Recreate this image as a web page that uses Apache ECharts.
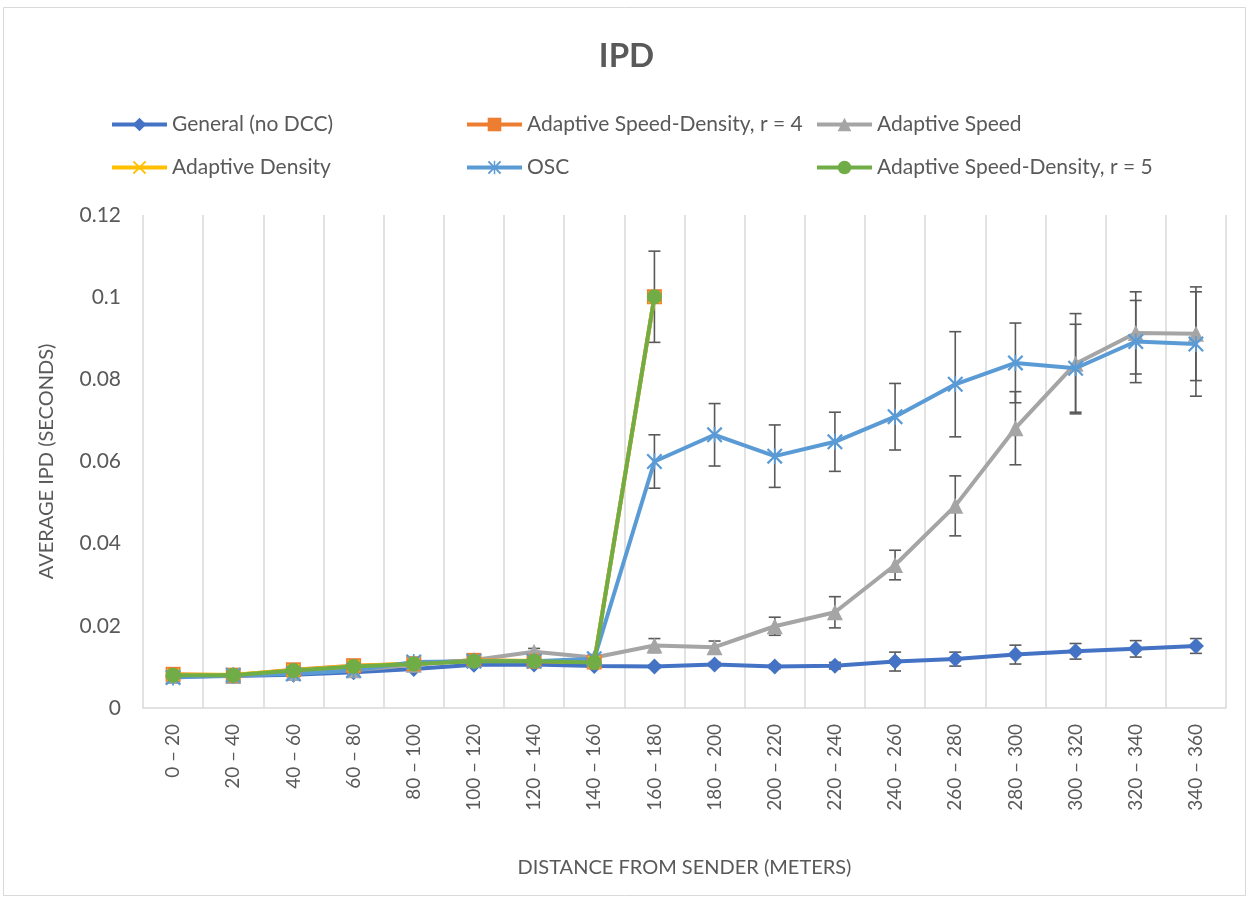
<!DOCTYPE html>
<html>
<head>
<meta charset="utf-8">
<script src="https://cdn.jsdelivr.net/npm/echarts@6/dist/echarts.min.js"></script>
<style>
html,body{margin:0;padding:0;background:#fff;}
#chart{width:1253px;height:903px;}
</style>
</head>
<body>
<div id="chart"></div>
<script>
var categories = ['0 – 20','20 – 40','40 – 60','60 – 80','80 – 100','100 – 120','120 – 140','140 – 160','160 – 180','180 – 200','200 – 220','220 – 240','240 – 260','260 – 280','280 – 300','300 – 320','320 – 340','340 – 360'];
var yTicks = [0, 0.02, 0.04, 0.06, 0.08, 0.1, 0.12];

var seriesNames = ['General (no DCC)','Adaptive Speed-Density, r = 4','Adaptive Speed','Adaptive Density','OSC','Adaptive Speed-Density, r = 5'];

var general = [0.0076,0.0078,0.0081,0.0087,0.0095,0.0105,0.0106,0.0102,0.0101,0.0106,0.0101,0.0103,0.0113,0.0119,0.0130,0.0138,0.0144,0.0151];
var generalErr = [0.0002,0.0002,0.0002,0.0002,0.0003,0.0003,0.0003,0.0003,0.0004,0.0005,0.0005,0.0008,0.0023,0.0017,0.0023,0.0019,0.0020,0.0018];

var speedDensity4 = [0.0082,0.0080,0.0093,0.0103,0.0108,0.0116,0.0114,0.0112,0.1001,null,null,null,null,null,null,null,null,null];

var speed = [0.0078,0.0078,0.0085,0.0092,0.0105,0.0117,0.0137,0.0123,0.0152,0.0148,0.0199,0.0233,0.0348,0.0492,0.0681,0.0838,0.0913,0.0911];
var speedErr = [0.0002,0.0002,0.0002,0.0002,0.0003,0.0004,0.0008,0.0007,0.0017,0.0015,0.0022,0.0038,0.0036,0.0073,0.0089,0.0122,0.0100,0.0114];

var density = [0.0081,0.0081,0.0092,0.0102,0.0108,0.0115,0.0115,0.0112,0.1000,null,null,null,null,null,null,null,null,null];

var osc = [0.0074,0.0080,0.0083,0.0091,0.0112,0.0114,0.0114,0.0120,0.0600,0.0665,0.0613,0.0648,0.0709,0.0788,0.0840,0.0827,0.0892,0.0886];
var oscErr = [0.0002,0.0002,0.0002,0.0002,0.0003,0.0003,0.0003,0.0007,0.0065,0.0076,0.0076,0.0072,0.0081,0.0128,0.0097,0.0107,0.0100,0.0127];

var speedDensity5 = [0.0080,0.0080,0.0091,0.0101,0.0107,0.0114,0.0114,0.0111,0.1001,null,null,null,null,null,null,null,null,null];
var speedDensity5Err = [0.0002,0.0002,0.0002,0.0002,0.0002,0.0003,0.0003,0.0003,0.0111,null,null,null,null,null,null,null,null,null];

var colors = ['#4472C4','#ED7D31','#A5A5A5','#FFC000','#5B9BD5','#70AD47'];
var FONT = 'Lato, "Open Sans", sans-serif';
var TXT = '#595959';

var xSymbol = 'path://M0,1 L1,0 L5,4 L9,0 L10,1 L6,5 L10,9 L9,10 L5,6 L1,10 L0,9 L4,5 Z';
var starSymbol = 'path://M0,1 L1,0 L5,4 L9,0 L10,1 L6,5 L10,9 L9,10 L5,6 L1,10 L0,9 L4,5 Z M4.45,0 L5.55,0 L5.55,10 L4.45,10 Z';

function lineSeries(name, data, color, symbol, size, z) {
  return {
    name: name, type: 'line', data: data, color: color,
    symbol: symbol, symbolSize: size, showSymbol: true,
    lineStyle: {width: 4, color: color},
    itemStyle: {color: color},
    connectNulls: false, z: z, animation: false
  };
}

function errSeries(values, errs, z) {
  var d = [];
  for (var i = 0; i < values.length; i++) {
    if (values[i] != null && errs[i] != null) d.push([i, values[i], errs[i]]);
  }
  return {
    type: 'custom', data: d, z: z, silent: true, animation: false,
    encode: {x: 0, y: 1},
    renderItem: function (params, api) {
      var i = api.value(0), v = api.value(1), e = api.value(2);
      var top = api.coord([i, v + e]);
      var bot = api.coord([i, v - e]);
      var hw = 6;
      var st = {stroke: '#595959', lineWidth: 1.6};
      return {type: 'group', children: [
        {type: 'line', shape: {x1: top[0], y1: top[1], x2: bot[0], y2: bot[1]}, style: st},
        {type: 'line', shape: {x1: top[0]-hw, y1: top[1], x2: top[0]+hw, y2: top[1]}, style: st},
        {type: 'line', shape: {x1: bot[0]-hw, y1: bot[1], x2: bot[0]+hw, y2: bot[1]}, style: st}
      ]};
    }
  };
}

var legendPos = [[110,114],[465,114],[815,114],[110,157],[465,157],[815,157]];
var legends = seriesNames.map(function (n, k) {
  return {
    data: [n], left: legendPos[k][0], top: legendPos[k][1], padding: 0,
    itemWidth: 55, itemHeight: 17, itemGap: 5,
    lineStyle: {width: 4},
    textStyle: {fontFamily: FONT, fontSize: 21, color: TXT}
  };
});

var chart = echarts.init(document.getElementById('chart'), null, {renderer: 'canvas'});
chart.setOption({
  backgroundColor: '#fff',
  animation: false,
  title: {
    text: 'IPD', left: 'center', top: 35,
    textStyle: {fontFamily: FONT, fontSize: 33, fontWeight: 'bold', color: TXT}
  },
  legend: legends,
  graphic: [{
    type: 'rect', shape: {x: 3.5, y: 7.5, width: 1242, height: 888},
    style: {fill: 'none', stroke: '#D9D9D9', lineWidth: 1}, silent: true, z: -10
  }],
  grid: {left: 143, right: 27, top: 215, bottom: 195, containLabel: false},
  xAxis: {
    type: 'category', data: categories, boundaryGap: true,
    name: 'DISTANCE FROM SENDER (METERS)', nameLocation: 'middle', nameGap: 150,
    nameTextStyle: {fontFamily: FONT, fontSize: 20, color: TXT},
    axisLine: {show: true, lineStyle: {color: '#D9D9D9', width: 1.5}},
    axisTick: {show: false},
    splitLine: {show: true, lineStyle: {color: '#D9D9D9', width: 1.5}},
    axisLabel: {rotate: 90, margin: 16, fontFamily: FONT, fontSize: 19, color: TXT, interval: 0}
  },
  yAxis: {
    type: 'value', min: 0, max: 0.12, interval: 0.02,
    name: 'AVERAGE IPD (SECONDS)', nameLocation: 'middle', nameGap: 86,
    nameTextStyle: {fontFamily: FONT, fontSize: 20, color: TXT},
    axisLine: {show: false}, axisTick: {show: false},
    splitLine: {show: false},
    axisLabel: {margin: 22, fontFamily: FONT, fontSize: 21, color: TXT,
      formatter: function (v) { return String(+v.toFixed(2)); }}
  },
  series: [
    errSeries(general, generalErr, 1),
    errSeries(speed, speedErr, 1),
    errSeries(osc, oscErr, 1),
    errSeries(speedDensity5, speedDensity5Err, 1),
    lineSeries(seriesNames[0], general, colors[0], 'diamond', 16, 2),
    lineSeries(seriesNames[1], speedDensity4, colors[1], 'rect', 15, 3),
    lineSeries(seriesNames[2], speed, colors[2], 'triangle', 16, 2),
    lineSeries(seriesNames[3], density, colors[3], xSymbol, 13, 3),
    lineSeries(seriesNames[4], osc, colors[4], starSymbol, 16, 3),
    lineSeries(seriesNames[5], speedDensity5, colors[5], 'circle', 15, 4)
  ]
});
</script>
</body>
</html>
